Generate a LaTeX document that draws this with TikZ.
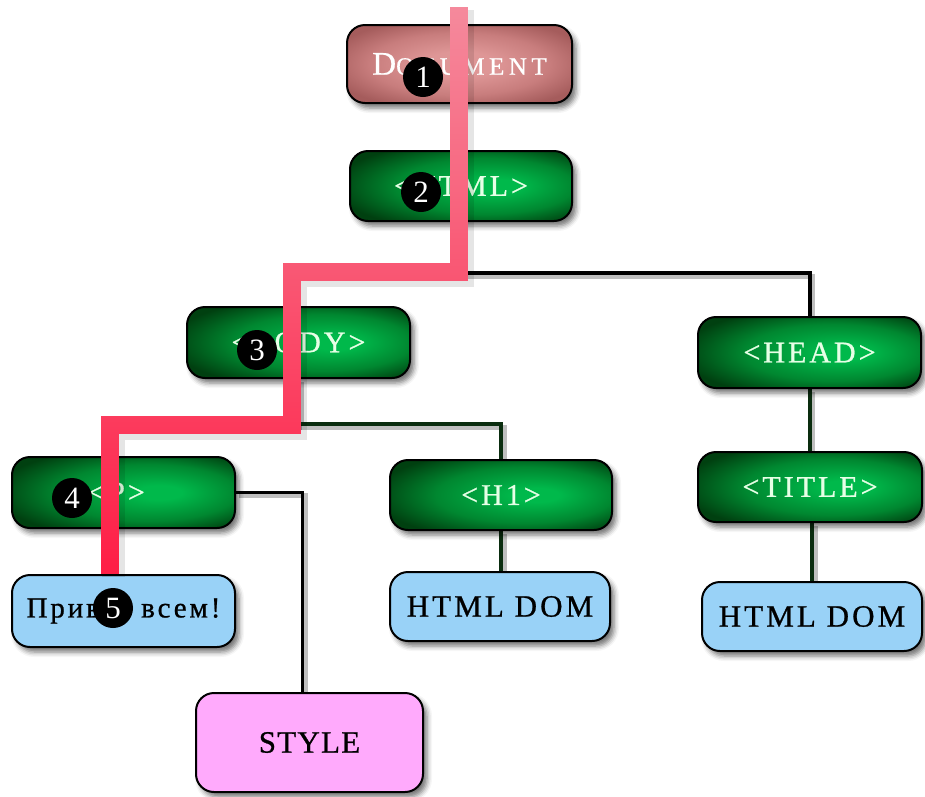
\documentclass[tikz,border=0pt]{standalone}
\usepackage{fontspec}
\setmainfont{Liberation Serif}
\newfontfamily\lblfont[LetterSpace=10,FakeBold=0.8]{Liberation Serif}
\newfontfamily\stylefont[LetterSpace=4,FakeBold=0.8]{Liberation Serif}
\newfontfamily\docfont[LetterSpace=18,FakeBold=0.6]{Liberation Serif}
\usetikzlibrary{shadows.blur,fadings}

\definecolor{gbright}{RGB}{0,185,75}
\definecolor{gmid}{RGB}{0,135,48}
\definecolor{gdark}{RGB}{0,64,16}
\definecolor{pbright}{RGB}{222,150,150}
\definecolor{pmid}{RGB}{200,125,125}
\definecolor{pdark}{RGB}{165,92,92}
\definecolor{leafblue}{RGB}{153,210,247}
\definecolor{stylepink}{RGB}{255,170,252}
\definecolor{pathred}{RGB}{255,28,68}
\definecolor{pathpink}{RGB}{245,140,158}
\definecolor{linegreen}{RGB}{10,45,15}
\definecolor{tagtext}{RGB}{230,255,230}

% glowing fills for the tag boxes
\pgfdeclareradialshading{greenglow}{\pgfpoint{9bp}{0bp}}{color(0bp)=(gbright); color(5bp)=(gbright); color(20bp)=(gmid); color(32bp)=(gdark); color(50bp)=(gdark)}
\pgfdeclareradialshading{pinkglow}{\pgfpoint{0bp}{0bp}}{color(0bp)=(pbright); color(8bp)=(pbright); color(20bp)=(pmid); color(30bp)=(pdark); color(50bp)=(pdark)}

% highlight colour fades from pink (top) to red (bottom)
\tikzfading[name=pinktop, top color=transparent!0, middle color=transparent!65, bottom color=transparent!100]

\pgfdeclarelayer{back}
\pgfsetlayers{back,main}

\tikzset{
  box/.style={rounded corners=18pt, draw=black, line width=2pt,
    minimum width=222pt, minimum height=70pt, inner sep=0pt,
    blur shadow={shadow xshift=4pt, shadow yshift=-5pt, shadow blur radius=5pt, shadow opacity=55}},
  tagbox/.style={box, shading=greenglow, text=tagtext,
    font=\lblfont\fontsize{30pt}{30pt}\selectfont},
  docbox/.style={box, shading=pinkglow, text=white},
  textbox/.style={box, fill=leafblue, text=black,
    font=\lblfont\fontsize{31pt}{31pt}\selectfont},
  stylebox/.style={box, fill=stylepink, text=black,
    font=\stylefont\fontsize{31pt}{31pt}\selectfont},
  conn/.style={draw=black, line width=4pt,
    preaction={draw=black, opacity=.25, line width=5pt, transform canvas={xshift=3pt, yshift=-3pt}}},
  gconn/.style={conn, draw=linegreen},
  thinconn/.style={conn, line width=3pt},
  hlshadow/.style={draw=black, opacity=.10, line width=23pt, line join=miter,
    transform canvas={xshift=3pt, yshift=-3pt}},
  hlpath/.style={draw=pathred, line width=18pt, line join=miter},
  numdot/.style={circle, fill=black, text=white, minimum size=40pt, inner sep=0pt,
    font=\fontsize{31pt}{31pt}\selectfont},
}

\begin{document}
\begin{tikzpicture}[x=1pt, y=-1pt]
\useasboundingbox (0,0) rectangle (925,796);

% tree nodes
\node[docbox, minimum width=225pt, minimum height=78pt] (doc) at (459.5,64)
  {\docfont\fontsize{33pt}{33pt}\selectfont D\fontsize{25pt}{25pt}\selectfont OCUMENT};
\node[tagbox] (html) at (461,186) {<HTML>};
\node[tagbox, minimum width=223pt, minimum height=71pt] (body) at (298.5,342.5) {<BODY>};
\node[tagbox, minimum width=223pt, minimum height=71pt] (head) at (809.5,352.5) {<HEAD>};
\node[tagbox, minimum width=223pt, minimum height=71pt] (p) at (123.5,492.5) {\kern-14pt<P>};
\node[tagbox] (h1) at (501,495) {<H1>};
\node[tagbox, minimum width=224pt] (title) at (810,487) {<TITLE>};
\node[textbox, minimum width=223pt, minimum height=72pt,
  font=\lblfont\fontsize{29pt}{29pt}\selectfont] (priv) at (123.5,611) {Привет всем!};
\node[textbox, minimum width=220pt, minimum height=69pt] (dom1) at (500,606.5) {HTML DOM};
\node[textbox, minimum width=220pt, minimum height=69pt] (dom2) at (812,616.5) {HTML DOM};
\node[stylebox, minimum width=227pt, minimum height=99pt] (style) at (309.5,742.5) {STYLE};

% tree edges, behind the boxes
\begin{pgfonlayer}{back}
  \draw[conn] ([xshift=-3pt]html.south) -- ++(0,51) coordinate (hub1) -| (head.north);
  \draw[conn] (hub1) -| ([xshift=-6.5pt]body.north);
  \draw[gconn] (body.south) -- ++(0,45) coordinate (hub2) -| (h1.north);
  \draw[gconn] (hub2) -| ([xshift=-13.5pt]p.north);
  \draw[gconn] ([xshift=-13.5pt]p.south) -- ([xshift=-13.5pt]priv.north);
  \draw[thinconn] (p.east) -| ([xshift=-7.5pt]style.north);
  \draw[gconn] (h1.south) -- (h1.south |- dom1.north);
  \draw[gconn] (head.south) -- (head.south |- title.north);
  \draw[gconn] ([xshift=2pt]title.south) -- ([xshift=2pt]title.south |- dom2.north);
\end{pgfonlayer}

% highlighted route from the document root to the text node
\coordinate (r0) at (459,7);
\coordinate (r1) at (459,272);
\coordinate (r2) at (292,272);
\coordinate (r3) at (292,425);
\coordinate (r4) at (110,425);
\coordinate (r5) at ([xshift=-13.5pt]priv.north);
\draw[hlshadow] (r0) -- (r1) -- (r2) -- (r3) -- (r4) -- (r5);
\draw[hlpath] (r0) -- (r1) -- (r2) -- (r3) -- (r4) -- (r5);
\draw[hlpath, draw=pathpink, path fading=pinktop] (r0) -- (r1) -- (r2) -- (r3) -- (r4) -- (r5);

% step numbers along the route
\node[numdot] (m1) at (423,77) {1};
\node[numdot] (m2) at (421,192) {2};
\node[numdot] (m3) at (257,350) {3};
\node[numdot] (m4) at (72,498) {4};
\node[numdot] (m5) at (113,608) {5};
\end{tikzpicture}
\end{document}
